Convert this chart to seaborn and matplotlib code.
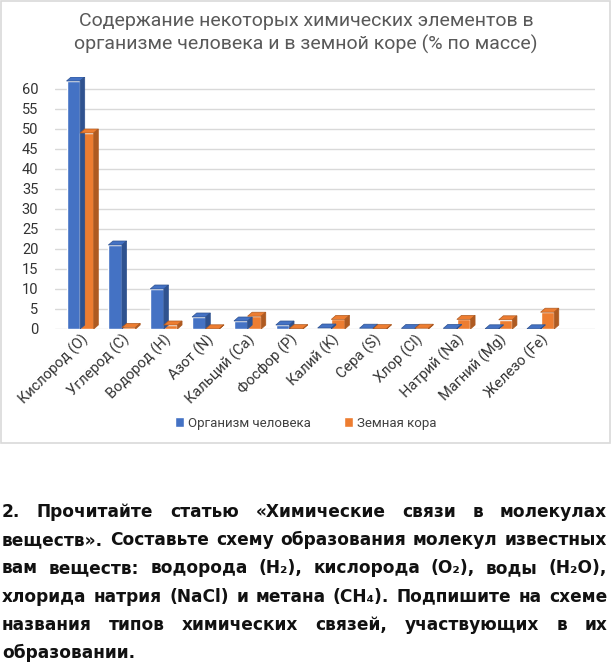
import pandas as pd
import matplotlib
matplotlib.use('Agg')
import matplotlib.pyplot as plt
import seaborn as sns
from matplotlib.patches import Polygon, Rectangle

# данные
elements = ['Кислород (O)', 'Углерод (C)', 'Водород (H)', 'Азот (N)', 'Кальций (Ca)',
            'Фосфор (P)', 'Калий (K)', 'Сера (S)', 'Хлор (Cl)', 'Натрий (Na)',
            'Магний (Mg)', 'Железо (Fe)']
human = [62, 21, 10, 3, 2, 1, 0.25, 0.2, 0.15, 0.15, 0.05, 0.05]
crust = [49, 0.4, 1, 0.05, 3.2, 0.1, 2.4, 0.1, 0.2, 2.4, 2.3, 4.2]
series = ['Организм человека', 'Земная кора']
title = 'Содержание некоторых химических элементов в\nорганизме человека и в земной коре (% по массе)'
yticks = list(range(0, 61, 5))

task_lines = [
    '2. Прочитайте статью «Химические связи в молекулах',
    'веществ». Составьте схему образования молекул известных',
    'вам веществ: водорода (H₂), кислорода (O₂), воды (H₂O),',
    'хлорида натрия (NaCl) и метана (CH₄). Подпишите на схеме',
    'названия типов химических связей, участвующих в их',
    'образовании.',
]

df = pd.DataFrame({
    'element': elements * 2,
    'value': human + crust,
    'source': [series[0]] * len(elements) + [series[1]] * len(elements),
})

sns.set_style('white')
plt.rcParams['font.family'] = ['Roboto', 'DejaVu Sans']

W, H = 612, 669
fig = plt.figure(figsize=(W / 100, H / 100), dpi=100)

# рамка диаграммы
fig.add_artist(Rectangle((1 / W, 1 - 443 / H), 609 / W, 442 / H, transform=fig.transFigure,
                         fill=False, edgecolor='#d9d9d9', lw=1.2))

ax = fig.add_axes([55 / W, 1 - 329 / H, 540 / W, 252 / H])
colors = ['#4472c4', '#ed7d31']
dark = ['#2f528f', '#ae5a21']
sns.barplot(data=df, x='element', y='value', hue='source', palette=colors,
            width=0.65, saturation=1, ax=ax, zorder=3)

ax.set_xlim(-0.6, 12.3)
ax.set_ylim(0, 63)
for yv in yticks:
    ax.plot([-0.6, 12.3], [yv, yv], color='#d9d9d9', lw=1, zorder=1)
ax.set_yticks(yticks)
ax.tick_params(axis='y', length=0, labelsize=10.5, labelcolor='#333333', pad=12)
ax.tick_params(axis='x', length=0, labelsize=10.5, labelcolor='#333333', pad=2)
plt.setp(ax.get_xticklabels(), rotation=45, ha='right', rotation_mode='anchor')
ax.set_xlabel('')
ax.set_ylabel('')
for s in ax.spines.values():
    s.set_visible(False)

# псевдо-3D грани
dx, dy = 0.11, 1.0
for ci, cont in enumerate(ax.containers):
    for p in cont:
        x0, w, h = p.get_x(), p.get_width(), p.get_height()
        top = Polygon([(x0, h), (x0 + w, h), (x0 + w + dx, h + dy), (x0 + dx, h + dy)],
                      closed=True, facecolor=colors[ci], edgecolor=dark[ci], lw=0.5, zorder=4)
        side = Polygon([(x0 + w, 0), (x0 + w, h), (x0 + w + dx, h + dy), (x0 + w + dx, dy)],
                       closed=True, facecolor=dark[ci], edgecolor=dark[ci], lw=0.5, zorder=4)
        ax.add_patch(top)
        ax.add_patch(side)

sns.move_legend(ax, 'center', bbox_to_anchor=(0.5, 1 - 423 / H), bbox_transform=fig.transFigure,
                ncol=2, frameon=False, title=None, fontsize=9.5, handlelength=0.7,
                handleheight=0.7, handletextpad=0.3, columnspacing=2.5)
for t in ax.get_legend().get_texts():
    t.set_color('#404040')

fig.text(0.5, 1 - 33 / H, title, ha='center', va='center', fontsize=14,
         color='#595959', linespacing=1.3)

# текст задания, выравнивание по ширине
renderer = fig.canvas.get_renderer()
left, right = 2, 607
fam = ['DejaVu Sans']

# подбор размера шрифта по самой длинной строке
fs = 15
while True:
    probe = [fig.text(0, 0, ln, fontsize=fs, fontweight='bold', family=fam) for ln in task_lines]
    widest = max(t.get_window_extent(renderer).width for t in probe)
    for t in probe:
        t.remove()
    if widest <= right - left - 2:
        break
    fs -= 0.25

for i, line in enumerate(task_lines):
    yc = 1 - (512 + i * 28.2) / H
    words = line.split(' ')
    objs = [fig.text(0, yc, wd, fontsize=fs, fontweight='bold', family=fam,
                     va='center', ha='left', color='#111111') for wd in words]
    widths = [o.get_window_extent(renderer).width for o in objs]
    if i < len(task_lines) - 1:
        gap = (right - left - sum(widths)) / (len(words) - 1)
    else:
        gap = fs * 0.45
    x = left
    for o, wdt in zip(objs, widths):
        o.set_x(x / W)
        x += wdt + gap

fig.savefig('out.png', dpi=100)
